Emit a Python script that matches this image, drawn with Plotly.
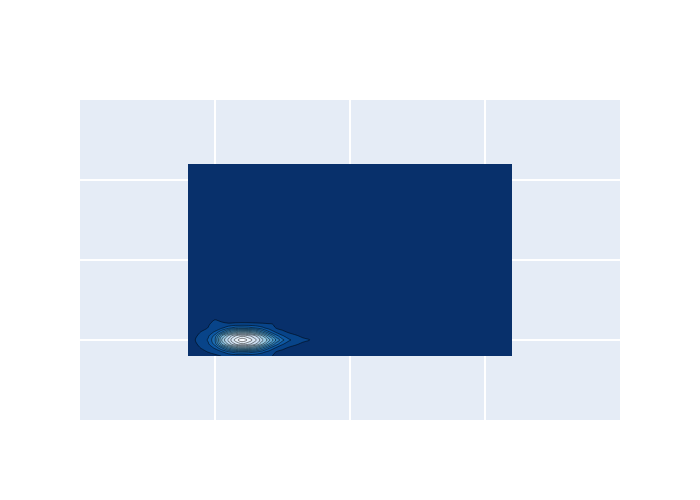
import plotly.graph_objects as go

x_vals = [0.8, 0.85, 0.9, 0.95, 1.0, 1.05, 1.1, 1.15, 1.2, 1.25, 1.3, 1.35, 1.4, 1.45,
          1.5, 1.55, 1.6, 1.65, 1.7, 1.75, 1.8, 1.85, 1.9, 2.0, 2.6, 3.2]
y_vals = [0.8, 0.85, 0.9, 0.95, 1.0, 1.05, 1.1, 1.15, 1.2, 1.25, 1.3, 1.6, 2.2, 3.2]

row_080 = [1.5, 2.6, 4.2, 6.1, 8.2, 10.2, 11.0, 11.5, 11.7, 11.6, 11.3, 11.0, 10.4, 9.6, 7.0, 5.5, 4.5, 3.5, 2.5, 1.8, 1.2, 0.8, 0.4, 0, 0, 0]
row_085 = [2.7, 4.9, 7.3, 10.3, 12.5, 16.0, 22.0, 27.0, 28.0, 27.0, 24.0, 19.0, 14.0, 10.0, 8.0, 6.5, 5.0, 4.0, 3.0, 2.0, 1.5, 1.0, 0.5, 0, 0, 0]
row_090 = [4.4, 7.0, 10.5, 13.0, 18.0, 30.0, 45.0, 55.0, 58.0, 56.0, 50.0, 38.0, 25.0, 16.0, 11.5, 9.0, 7.0, 5.0, 3.5, 2.5, 1.5, 1.0, 0.5, 0, 0, 0]
row_095 = [5.6, 9.1, 11.7, 16.0, 27.0, 52.0, 68.0, 80.0, 86.0, 82.0, 74.0, 60.0, 44.0, 28.0, 18.0, 13.0, 11.0, 8.5, 6.0, 4.0, 2.5, 1.5, 0.8, 0, 0, 0]
row_100 = [6.0, 9.8, 12.3, 18.0, 30.0, 60.0, 75.0, 90.0, 100.0, 92.0, 82.0, 68.0, 55.0, 38.0, 26.0, 18.0, 14.0, 11.9, 10.3, 7.7, 5.5, 3.6, 2.3, 0, 0, 0]
row_105 = [5.6, 9.1, 11.7, 16.0, 27.0, 52.0, 68.0, 80.0, 86.0, 82.0, 74.0, 60.0, 44.0, 28.0, 18.0, 13.0, 11.0, 8.5, 6.0, 4.0, 2.5, 1.5, 0.8, 0, 0, 0]
row_110 = [4.4, 7.0, 10.5, 13.0, 18.0, 30.0, 45.0, 55.0, 58.0, 56.0, 50.0, 38.0, 25.0, 16.0, 11.5, 9.0, 7.0, 5.0, 3.5, 2.5, 1.5, 1.0, 0.5, 0, 0, 0]
row_115 = [2.7, 4.9, 7.3, 10.3, 12.5, 16.0, 22.0, 27.0, 28.0, 27.0, 24.0, 19.0, 14.0, 10.0, 8.0, 6.5, 5.0, 4.0, 3.0, 2.0, 1.5, 1.0, 0.5, 0, 0, 0]
row_120 = [1.5, 2.6, 4.2, 9.0, 13.0, 12.0, 11.0, 11.5, 11.7, 11.6, 11.3, 11.0, 10.4, 9.6, 7.0, 5.5, 4.5, 3.5, 2.5, 1.8, 1.2, 0.8, 0.4, 0, 0, 0]
row_125 = [0.5, 1.0, 1.9, 6.0, 10.5, 8.0, 6.0, 6.6, 6.8, 6.7, 6.4, 6.0, 5.4, 4.7, 3.9, 2.9, 2.4, 1.8, 1.2, 0.8, 0.5, 0.3, 0.1, 0, 0, 0]
row_130 = [0.1, 0.3, 0.7, 1.3, 1.9, 2.3, 2.5, 2.7, 2.7, 2.7, 2.6, 2.5, 2.2, 1.9, 1.6, 1.2, 0.9, 0.6, 0.4, 0.2, 0.1, 0, 0, 0, 0, 0]
row_160 = [0] * 26
row_220 = [0] * 26
row_320 = [0] * 26

z_vals = [row_080, row_085, row_090, row_095, row_100, row_105, row_110, row_115,
          row_120, row_125, row_130, row_160, row_220, row_320]

fig = go.Figure(go.Contour(
    x=x_vals, y=y_vals, z=z_vals,
    colorscale="Blues", reversescale=True,
    contours=dict(start=10, end=94, size=7),
    line=dict(width=0.5),
    showscale=False,
))
fig.update_layout(
    width=692, height=492,
    margin=dict(l=72, r=80, t=92, b=80),
    xaxis=dict(range=[0, 4], dtick=1, showticklabels=False, zeroline=False, gridwidth=2),
    yaxis=dict(range=[0, 4], dtick=1, showticklabels=False, zeroline=False, gridwidth=2),
)
fig.write_html("out.html")
